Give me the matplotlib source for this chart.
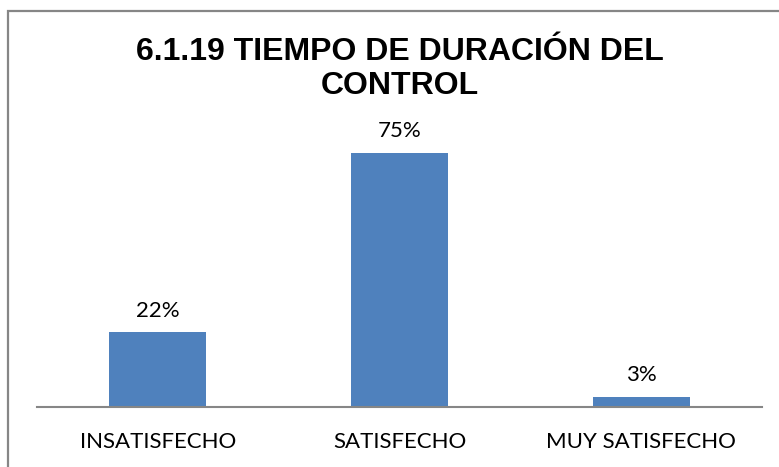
import matplotlib.pyplot as plt
from matplotlib.patches import Rectangle

categories = ['INSATISFECHO', 'SATISFECHO', 'MUY SATISFECHO']
values = [0.22, 0.75, 0.03]
labels = ['22%', '75%', '3%']
title = '6.1.19 TIEMPO DE DURACIÓN DEL\nCONTROL'

fig = plt.figure(figsize=(7.79, 4.67), dpi=100)
ax = fig.add_axes([37 / 779, 60 / 467, 725 / 779, 271 / 467])

x = range(len(categories))
ax.bar(x, values, width=0.4, color='#4F81BD')
for xi, v, lab in zip(x, values, labels):
    ax.text(xi, v + 0.035, lab, ha='center', va='bottom', fontsize=16, family='Lato')

ax.set_xlim(-0.5, 2.5)
ax.set_ylim(0, 0.8)
ax.set_yticks([])
ax.set_xticks(list(x))
ax.set_xticklabels(categories, fontsize=16, family='Lato')
ax.tick_params(axis='x', length=0, pad=18)
for s in ['top', 'right', 'left']:
    ax.spines[s].set_visible(False)
ax.spines['bottom'].set_color('#868686')
ax.spines['bottom'].set_linewidth(1.5)

fig.text(400 / 779, 1 - 69 / 467, title, ha='center', va='center', fontsize=23,
         fontweight='bold', family='Liberation Sans', linespacing=1.18)

# chart border (right and bottom edges run off the image)
fig.patches.append(Rectangle((8 / 779, -0.1), 1.2, 1 - 11 / 467 + 0.1, transform=fig.transFigure,
                             fill=False, edgecolor='#868686', linewidth=1.6))

fig.savefig('out.png', dpi=100)
